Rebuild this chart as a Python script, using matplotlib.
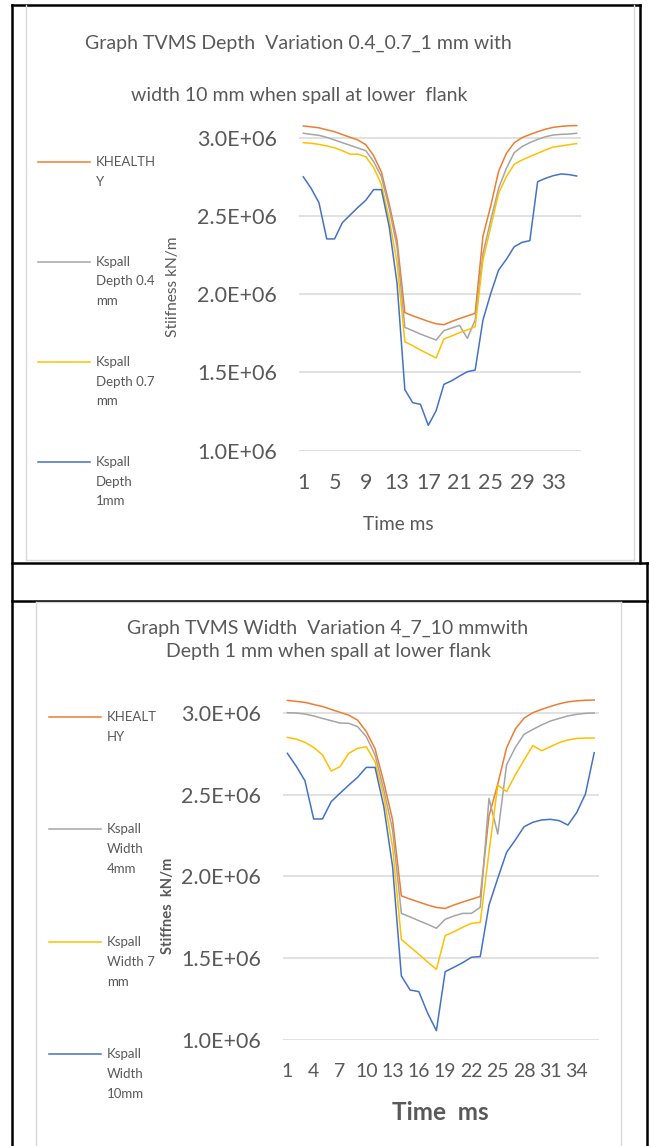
"""Two Excel-style TVMS stiffness line charts stacked in a Word-like table, saved to out.png."""
import matplotlib

matplotlib.use("Agg")
import matplotlib.pyplot as plt
from matplotlib.lines import Line2D
from matplotlib.ticker import FuncFormatter, FixedLocator

plt.rcParams["font.family"] = ["Lato", "DejaVu Sans"]

W, H = 649, 1146
TEXT = "#595959"
GRID = "#D9D9D9"
ORANGE, GRAY, YELLOW, BLUE = "#ED7D31", "#A5A5A5", "#FFC000", "#4472C4"

# ---- data (stiffness in E+06 kN/m), time steps 1..36 ----
time_ms = list(range(1, 37))
k_healthy = [3.075, 3.069, 3.063, 3.050, 3.038, 3.020, 3.002, 2.985, 2.955, 2.885,
             2.780, 2.575, 2.345, 1.882, 1.862, 1.844, 1.826, 1.811, 1.805, 1.826,
             1.844, 1.861, 1.878, 2.370, 2.565, 2.785, 2.900, 2.967, 3.000, 3.020,
             3.038, 3.054, 3.066, 3.072, 3.076, 3.077]
depth_04 = [3.028, 3.021, 3.015, 3.002, 2.985, 2.968, 2.951, 2.934, 2.917, 2.847,
            2.751, 2.548, 2.300, 1.788, 1.767, 1.745, 1.726, 1.707, 1.767, 1.784,
            1.801, 1.718, 1.835, 2.260, 2.474, 2.676, 2.804, 2.904, 2.943, 2.968,
            2.989, 3.006, 3.017, 3.021, 3.023, 3.028]
depth_07 = [2.968, 2.964, 2.957, 2.947, 2.935, 2.917, 2.894, 2.895, 2.878, 2.810,
            2.700, 2.480, 2.200, 1.696, 1.671, 1.643, 1.618, 1.592, 1.714, 1.733,
            1.754, 1.772, 1.792, 2.218, 2.431, 2.644, 2.751, 2.830, 2.857, 2.879,
            2.900, 2.921, 2.940, 2.947, 2.955, 2.962]
depth_1 = [2.750, 2.676, 2.585, 2.353, 2.353, 2.457, 2.506, 2.555, 2.600, 2.668,
           2.668, 2.430, 2.070, 1.390, 1.307, 1.296, 1.162, 1.255, 1.424, 1.447,
           1.477, 1.505, 1.515, 1.835, 2.005, 2.154, 2.223, 2.303, 2.331, 2.342,
           2.719, 2.740, 2.757, 2.768, 2.764, 2.755]
width_4 = [3.000, 2.998, 2.992, 2.980, 2.965, 2.951, 2.937, 2.935, 2.915, 2.854,
           2.742, 2.528, 2.284, 1.775, 1.753, 1.730, 1.708, 1.684, 1.739, 1.759,
           1.775, 1.775, 1.812, 2.477, 2.259, 2.681, 2.788, 2.868, 2.898, 2.925,
           2.949, 2.965, 2.980, 2.990, 2.996, 2.998]
width_7 = [2.849, 2.839, 2.819, 2.788, 2.742, 2.644, 2.670, 2.752, 2.782, 2.792,
           2.700, 2.487, 2.180, 1.616, 1.570, 1.525, 1.478, 1.433, 1.639, 1.663,
           1.690, 1.714, 1.720, 2.150, 2.558, 2.518, 2.620, 2.711, 2.799, 2.768,
           2.792, 2.817, 2.833, 2.843, 2.845, 2.845]
width_10 = [2.752, 2.674, 2.585, 2.351, 2.351, 2.457, 2.508, 2.558, 2.605, 2.666,
            2.666, 2.426, 2.060, 1.393, 1.307, 1.297, 1.165, 1.059, 1.419, 1.446,
            1.474, 1.507, 1.511, 1.826, 1.989, 2.147, 2.223, 2.304, 2.331, 2.345,
            2.349, 2.341, 2.314, 2.390, 2.504, 2.756]

y_ticks = [1.0e6, 1.5e6, 2.0e6, 2.5e6, 3.0e6]


def fx(x):
    return x / W


def fy(y):
    return 1 - y / H


def hline(fig, x0, x1, y, color="black", lw=1.8):
    fig.add_artist(Line2D([fx(x0), fx(x1)], [fy(y), fy(y)], color=color, lw=lw))


def vline(fig, x, y0, y1, color="black", lw=1.8):
    fig.add_artist(Line2D([fx(x), fx(x)], [fy(y0), fy(y1)], color=color, lw=lw))


def legend_entry(fig, x_line, x_text, y, color, lines, size):
    fig.add_artist(Line2D([fx(x_line), fx(x_line + 52)], [fy(y), fy(y)], color=color, lw=1.1))
    for i, txt in enumerate(lines):
        fig.text(fx(x_text), fy(y + i * 19.8), txt, fontsize=size, color=TEXT, ha="left", va="center")


def chart(fig, rect_px, series, tick_step, tick_size):
    x0, x1, y_top, y_bot = rect_px  # pixel box, y_top -> 3.1E6, y_bot -> 1.0E6
    ax = fig.add_axes([fx(x0), fy(y_bot), fx(x1) - fx(x0), fy(y_top) - fy(y_bot)])
    ax.set_facecolor("none")
    for values, color in series:
        ax.plot(time_ms, [v * 1e6 for v in values], color=color, lw=1.1)
    ax.set_xlim(0.5, 36.5)
    ax.set_ylim(1.0e6, 3.1e6)
    ax.yaxis.set_major_locator(FixedLocator(y_ticks))
    ax.yaxis.set_major_formatter(FuncFormatter(lambda v, _: f"{v:.1E}"))
    ax.set_xticks(time_ms[::tick_step])
    ax.grid(axis="y", color=GRID, lw=1.1)
    ax.set_axisbelow(True)
    for s in ax.spines.values():
        s.set_visible(False)
    ax.tick_params(axis="y", length=0, pad=16, labelsize=15.5, labelcolor=TEXT)
    ax.tick_params(axis="x", length=0, pad=16, labelsize=tick_size, labelcolor=TEXT)
    return ax


fig = plt.figure(figsize=(W / 100, H / 100), dpi=100)
fig.patch.set_facecolor("white")

# table borders (Word document)
hline(fig, 12, 640, 5)
vline(fig, 12, 5, 1146)
vline(fig, 640, 5, 563)
hline(fig, 12, 648, 563)
hline(fig, 12, 648, 601)
vline(fig, 647, 563, 1146)

# chart frames
for x in (26, 634):
    vline(fig, x, 5, 560, color=GRID, lw=1.0)
hline(fig, 26, 634, 560, color=GRID, lw=1.0)
for x in (36, 621):
    vline(fig, x, 602, 1146, color=GRID, lw=1.0)
hline(fig, 36, 621, 602, color=GRID, lw=1.0)

# ---- chart 1: depth variation ----
chart(fig, (299.4, 580.6, 122.0, 450.7),
      [(k_healthy, ORANGE), (depth_04, GRAY), (depth_07, YELLOW), (depth_1, BLUE)], 4, 15.5)
fig.text(fx(298), fy(43), "Graph TVMS Depth  Variation 0.4_0.7_1 mm with",
         fontsize=14, color=TEXT, ha="center", va="center")
fig.text(fx(299), fy(95), "width 10 mm when spall at lower  flank",
         fontsize=14, color=TEXT, ha="center", va="center")
fig.text(fx(173), fy(287), "Stiifness kN/m", fontsize=11.2, color=TEXT,
         rotation=90, ha="center", va="center")
fig.text(fx(398), fy(524), "Time ms", fontsize=13.8, color=TEXT, ha="center", va="center")
legend_entry(fig, 38, 96, 161.7, ORANGE, ["KHEALTH", "Y"], 9.5)
legend_entry(fig, 38, 96, 261.7, GRAY, ["Kspall", "Depth 0.4", "mm"], 9.5)
legend_entry(fig, 38, 96, 361.7, YELLOW, ["Kspall", "Depth 0.7", "mm"], 9.5)
legend_entry(fig, 38, 96, 461.7, BLUE, ["Kspall", "Depth", "1mm"], 9.5)

# ---- chart 2: width variation ----
chart(fig, (283.0, 598.6, 696.3, 1040.3),
      [(k_healthy, ORANGE), (width_4, GRAY), (width_7, YELLOW), (width_10, BLUE)], 3, 14)
fig.text(fx(328), fy(628), "Graph TVMS Width  Variation 4_7_10 mmwith",
         fontsize=14, color=TEXT, ha="center", va="center")
fig.text(fx(328), fy(651), "Depth 1 mm when spall at lower flank",
         fontsize=14, color=TEXT, ha="center", va="center")
fig.text(fx(168), fy(906), "Stiffnes  kN/m", fontsize=10.6, color=TEXT, fontweight="bold",
         rotation=90, ha="center", va="center")
fig.text(fx(440), fy(1112), "Time  ms", fontsize=17.5, color=TEXT, fontweight="bold",
         ha="center", va="center")
legend_entry(fig, 49, 107, 717, ORANGE, ["KHEALT", "HY"], 9.5)
legend_entry(fig, 49, 107, 829, GRAY, ["Kspall", "Width", "4mm"], 9.5)
legend_entry(fig, 49, 107, 942, YELLOW, ["Kspall", "Width 7", "mm"], 9.5)
legend_entry(fig, 49, 107, 1054, BLUE, ["Kspall", "Width", "10mm"], 9.5)

fig.savefig("out.png", dpi=100)
